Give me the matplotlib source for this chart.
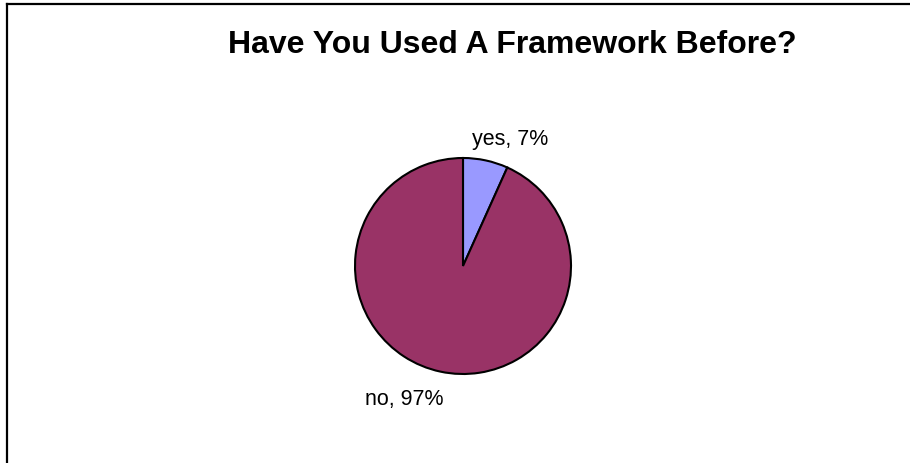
import matplotlib.pyplot as plt
from matplotlib.lines import Line2D

plt.rcParams['font.family'] = ['Liberation Sans', 'DejaVu Sans']

categories = ['yes', 'no']
values = [7, 97]
labels = ['yes, 7%', 'no, 97%']
colors = ['#9999FF', '#993366']

fig = plt.figure(figsize=(9.1, 4.64), dpi=100)
W, H = 910, 464

# chart area border (top and left visible)
fig.add_artist(Line2D([7 / W, 7 / W], [0, 1 - 5 / H], color='black', lw=1.6,
                      transform=fig.transFigure))
fig.add_artist(Line2D([7 / W, 1], [1 - 5 / H, 1 - 5 / H], color='black', lw=1.6,
                      transform=fig.transFigure))

fig.text(512.5 / W, 1 - 53 / H, 'Have You Used A Framework Before?',
         ha='center', va='baseline', fontsize=23, fontweight='bold')

cx, cy, r = 463, 267, 108
ax = fig.add_axes([(cx - r) / W, (H - cy - r) / H, 2 * r / W, 2 * r / H])
ax.pie(values, colors=colors, startangle=90, counterclock=False,
       wedgeprops=dict(edgecolor='black', linewidth=1.5))
ax.set_xlim(-1, 1)
ax.set_ylim(-1, 1)
ax.set_aspect('equal')
ax.axis('off')

fig.text(510 / W, 1 - 145 / H, labels[0], ha='center', va='baseline', fontsize=15.5)
fig.text(404.5 / W, 1 - 405 / H, labels[1], ha='center', va='baseline', fontsize=15.5)

fig.savefig('out.png', dpi=100)
